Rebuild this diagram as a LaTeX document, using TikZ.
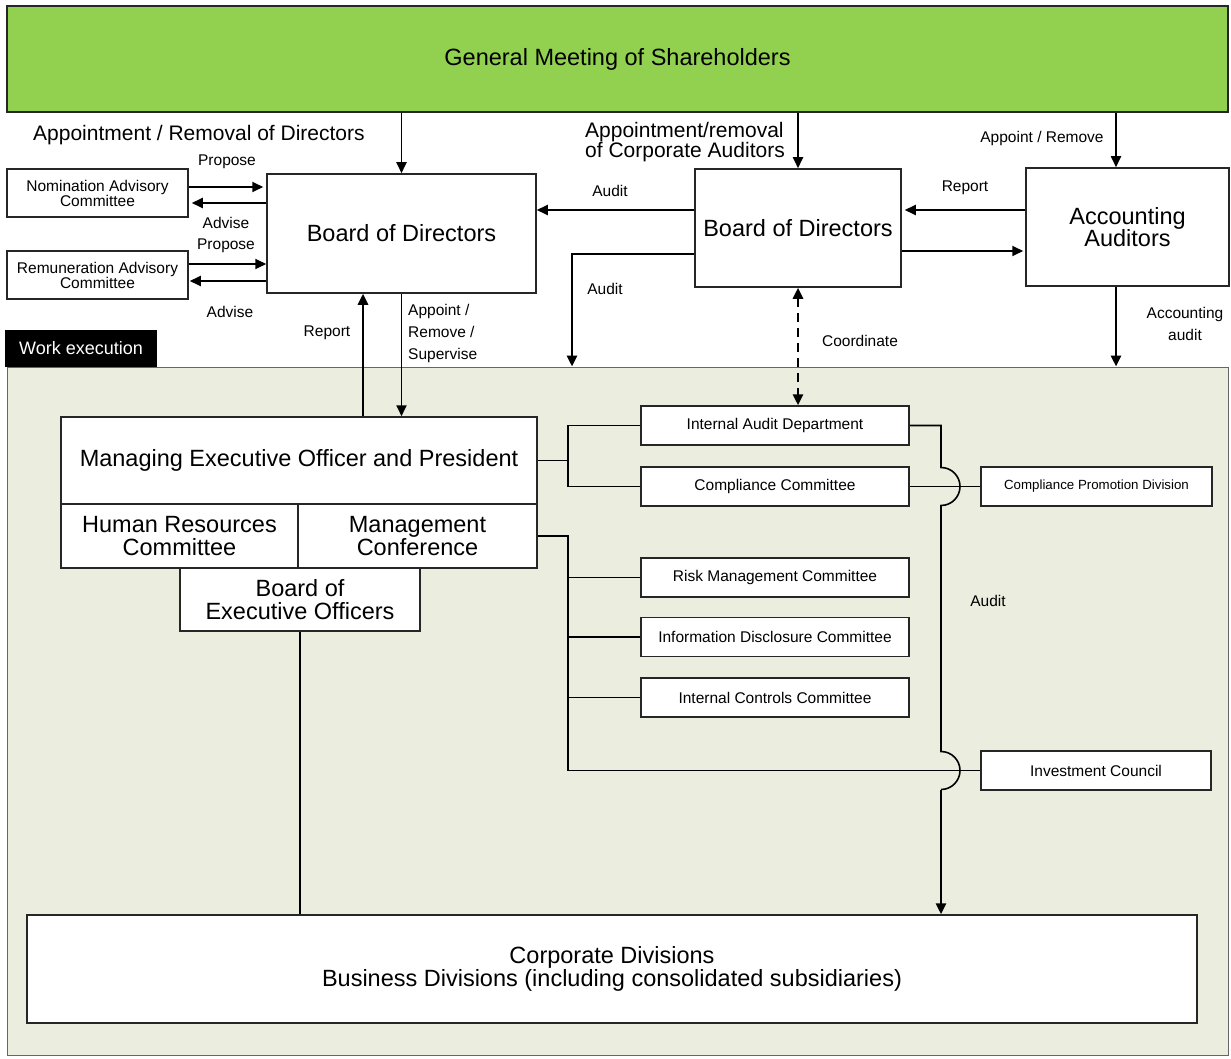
\documentclass[tikz,border=0pt]{standalone}
\usepackage{fontspec}
\setmainfont{Liberation Sans}
\usepackage{xcolor}
\usetikzlibrary{arrows.meta, positioning, calc}

\definecolor{gmsgreen}{RGB}{146,208,80}
\definecolor{workbg}{RGB}{235,238,222}

\newcommand{\fhuge}{\fontsize{23.5}{22.5}\selectfont}
\newcommand{\fbig}{\fontsize{21}{20}\selectfont}
\newcommand{\flbl}{\fontsize{15.5}{15}\selectfont}
\newcommand{\fwide}{\fontsize{15.5}{22}\selectfont}
\newcommand{\fsmall}{\fontsize{13.3}{15}\selectfont}

\begin{document}
\begin{tikzpicture}[x=1pt, y=-1pt,
    % Styles
    box/.style={draw=black!85, line width=1.5pt, fill=white, inner sep=0pt, align=center},
    bigbox/.style={box, font=\fhuge},
    cbox/.style={box, font=\flbl, minimum width=268pt, minimum height=39pt},
    lbl/.style={font=\flbl, inner sep=0pt, align=center},
    arrow/.style={-{Triangle[length=11pt, width=10pt]}, line width=1.8pt},
    thickarrow/.style={arrow, line width=2.6pt},
    link/.style={line width=1.6pt}
  ]
    \useasboundingbox (0,0) rectangle (1231,1059);

    % === Background areas ===
    \node[draw=black!85, line width=1.5pt, fill=gmsgreen, minimum width=1221pt, minimum height=106pt,
          inner sep=0pt, font=\fhuge] (gms) at (617.5,59) {General Meeting of Shareholders};
    \node[draw=black!60, line width=1pt, fill=workbg, minimum width=1221pt, minimum height=688pt,
          inner sep=0pt] (work) at (617.5,711) {};
    \node[fill=black, text=white, font=\fontsize{18}{20}\selectfont, minimum width=152pt,
          minimum height=37pt, inner sep=0pt] (tab) at (81,348.5) {Work execution};

    % === Governance boxes ===
    \node[bigbox, minimum width=269pt, minimum height=119pt] (bod) at (401.5,233.5) {Board of Directors};
    \node[box, font=\flbl, minimum width=181pt, minimum height=48pt] (nac) at (97.5,193) {Nomination Advisory\\Committee};
    \node[box, font=\flbl, minimum width=181pt, minimum height=48pt] (rac) at (97.5,275) {Remuneration Advisory\\Committee};
    \node[bigbox, minimum width=206pt, minimum height=118pt] (bcaud) at (798,228) {Board of Directors};
    \node[bigbox, minimum width=203pt, minimum height=118pt] (acc) at (1127.5,227) {Accounting\\Auditors};

    % === Execution boxes ===
    \node[bigbox, minimum width=476pt, minimum height=87pt] (mep) at (299,460.5) {Managing Executive Officer and President};
    \node[bigbox, minimum width=237pt, minimum height=64pt] (hrc) at (179.5,536) {Human Resources\\Committee};
    \node[bigbox, minimum width=239pt, minimum height=64pt] (mconf) at (417.5,536) {Management\\Conference};
    \node[bigbox, minimum width=240pt, minimum height=63pt] (beo) at (300,599.5) {Board of\\Executive Officers};

    \node[cbox] (iad) at (775,425.5) {Internal Audit Department};
    \node[cbox] (ccm) at (775,486.5) {Compliance Committee};
    \node[cbox] (rmc) at (775,577.5) {Risk Management Committee};
    \node[cbox] (idc) at (775,637) {Information Disclosure Committee};
    \node[cbox] (icc) at (775,697.5) {Internal Controls Committee};
    \node[box, font=\fsmall, minimum width=231pt, minimum height=39pt] (cpd) at (1096.5,486.5) {Compliance Promotion Division};
    \node[box, font=\flbl, minimum width=230pt, minimum height=39pt] (inv) at (1096,770.5) {Investment Council};

    \node[bigbox, minimum width=1170pt, minimum height=108pt] (cdiv) at (612,969)
      {Corporate Divisions\\Business Divisions (including consolidated subsidiaries)};

    % === Labels ===
    \node[font=\fbig, anchor=west, inner sep=0pt] (lapd) at (33,135) {Appointment / Removal of Directors};
    \node[font=\fbig, anchor=west, inner sep=0pt, align=left] (lapa) at (585,142) {Appointment/removal\\of Corporate Auditors};
    \node[lbl] (lapr) at (1042,138) {Appoint / Remove};
    \node[lbl] (lpr1) at (227,162) {Propose};
    \node[lbl] (lad1) at (226,223) {Advise};
    \node[lbl] (lpr2) at (226,246) {Propose};
    \node[lbl] (lad2) at (230,312) {Advise};
    \node[lbl] (lau1) at (610,191) {Audit};
    \node[lbl] (lau2) at (605,289) {Audit};
    \node[lbl] (lrep1) at (327,333) {Report};
    \node[lbl, font=\fwide, anchor=west, align=left] (lsup) at (408,333) {Appoint /\\Remove /\\Supervise};
    \node[lbl] (lcoo) at (860,341) {Coordinate};
    \node[lbl] (lrep2) at (965,188) {Report};
    \node[lbl, font=\fwide] (lacc) at (1185,324) {Accounting\\audit};
    \node[lbl] (lau3) at (988,601) {Audit};

    % === Helper coordinates ===
    \coordinate (accin) at ([xshift=-11.5pt]acc.north);
    \coordinate (rep) at (363,0);
    \coordinate (audin) at (572,0);
    \coordinate (br1) at (568,0);
    \coordinate (aud) at (941,0);

    % === Shareholders -> boards ===
    \draw[arrow] (bod.north |- gms.south) -- (bod.north);
    \draw[arrow] (bcaud.north |- gms.south) -- (bcaud.north);
    \draw[arrow] (accin |- gms.south) -- (accin);

    % === Advisory committees ===
    \draw[arrow, shorten >=3pt] ([yshift=6pt]nac.east) -- ([yshift=6pt]nac.east -| bod.west);
    \draw[arrow, shorten >=3pt] ([yshift=-10pt]nac.east -| bod.west) -- ([yshift=-10pt]nac.east);
    \draw[arrow] ([yshift=11pt]rac.east) -- ([yshift=11pt]rac.east -| bod.west);
    \draw[arrow, shorten >=1pt] ([yshift=-6pt]rac.east -| bod.west) -- ([yshift=-6pt]rac.east);

    % === Audit and accounting ===
    \draw[arrow] ([yshift=18pt]bcaud.west) -- ([yshift=18pt]bcaud.west -| bod.east);
    \draw[thickarrow] ([yshift=-26pt]bcaud.west) -| (audin |- work.north);
    \draw[arrow, shorten >=3pt] ([yshift=17pt]acc.west) -- ([yshift=17pt]acc.west -| bcaud.east);
    \draw[arrow, shorten >=2pt] ([yshift=-23pt]bcaud.east) -- ([yshift=-23pt]bcaud.east -| acc.west);
    \draw[thickarrow] (accin |- acc.south) -- (accin |- work.north);
    \draw[line width=2.6pt, dash pattern=on 9pt off 6pt,
          {Triangle[length=11pt, width=10pt]}-{Triangle[length=11pt, width=10pt]}]
          (bcaud.south) -- (bcaud.south |- iad.north);

    % === Board <-> president ===
    \draw[thickarrow] (rep |- mep.north) -- (rep |- bod.south);
    \draw[arrow] (bod.south) -- (bod.south |- mep.north);

    % === Committees ===
    \draw[link] (mep.east) -- (mep.east -| br1);
    \draw[link] (iad.west) -| (mep.east -| br1) |- (ccm.west);
    \draw[link] (mconf.east) -| (br1 |- inv.west) -- (inv.west);
    \foreach \n in {rmc, idc, icc}
      \draw[link] (br1 |- \n.west) -- (\n.west);
    \draw[link] (ccm.east) -- (cpd.west);

    % Audit line with jumps
    \draw[link] (iad.east) -| ($(aud |- ccm.east)+(0,-19)$)
      arc[start angle=-90, end angle=90, radius=19] -- ($(aud |- inv.west)+(0,-19)$)
      arc[start angle=-90, end angle=90, radius=19];
    \draw[thickarrow] ($(aud |- inv.west)+(0,19)$) -- (aud |- cdiv.north);

    \draw[link] (beo.south) -- (beo.south |- cdiv.north);

  \end{tikzpicture}
\end{document}
